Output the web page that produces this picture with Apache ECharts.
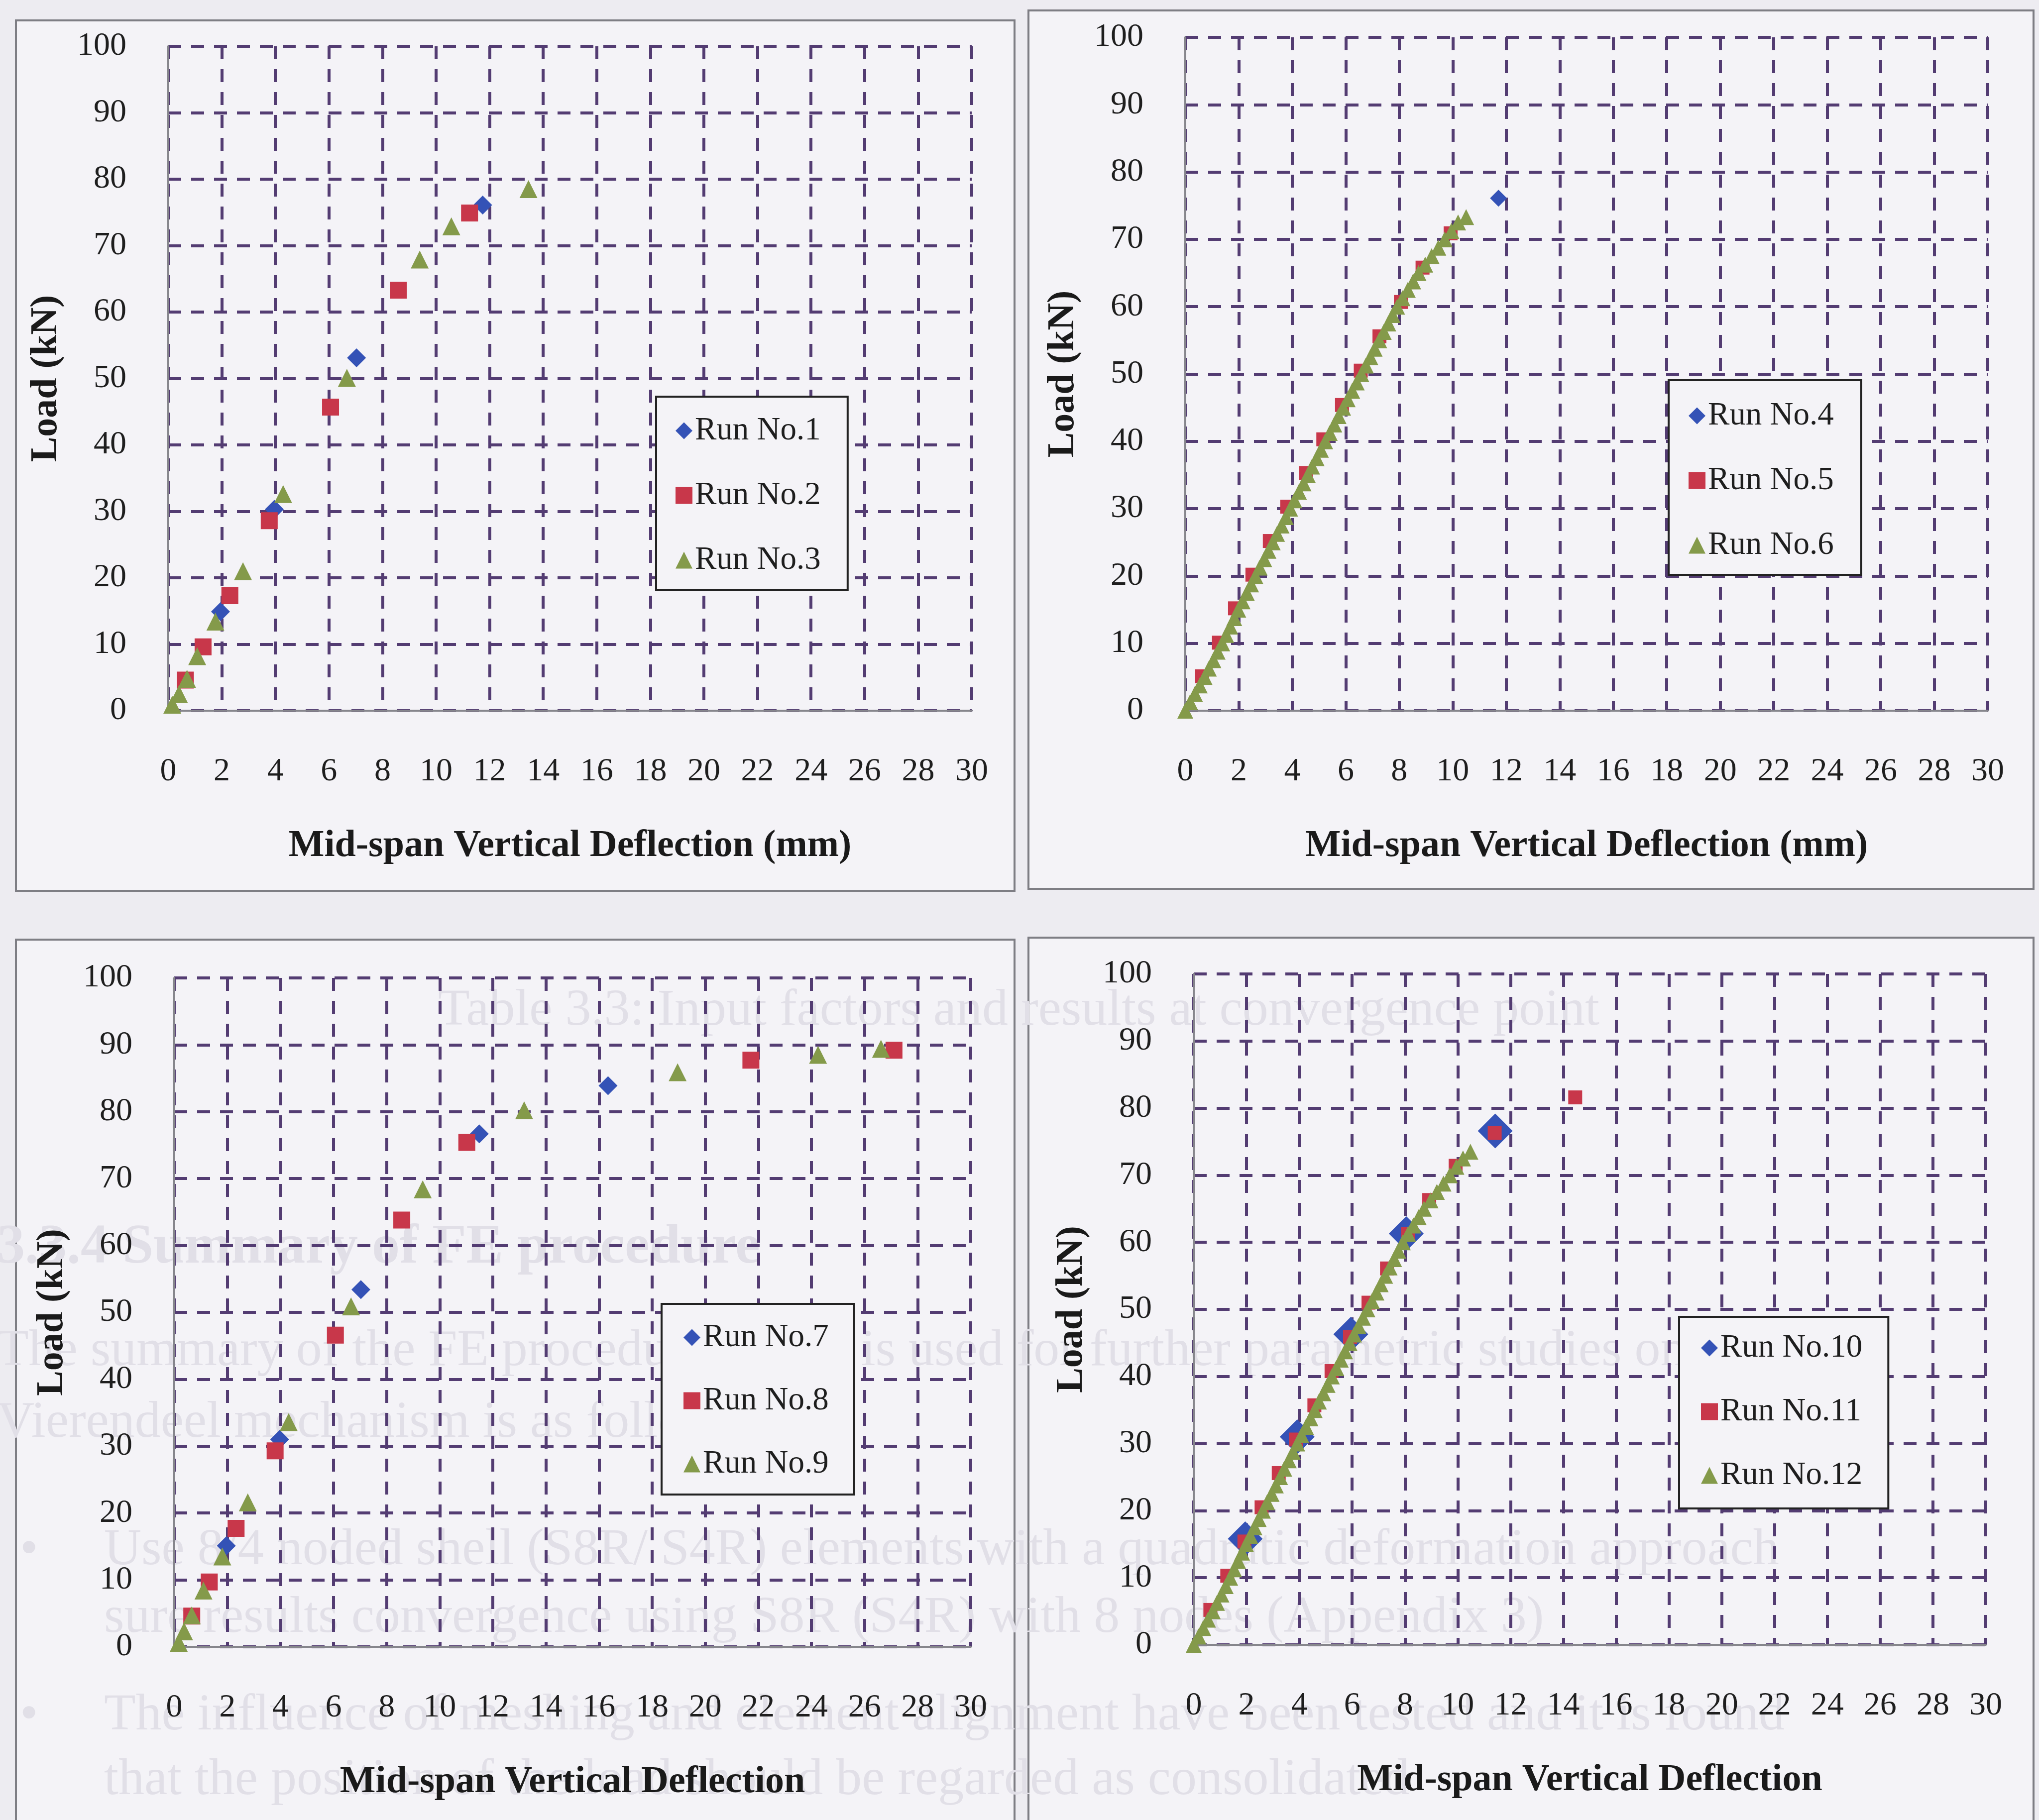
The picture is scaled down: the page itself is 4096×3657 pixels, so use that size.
<!DOCTYPE html>
<html>
<head>
<meta charset="utf-8">
<script src="https://cdn.jsdelivr.net/npm/echarts@6/dist/echarts.min.js"></script>
<style>
html,body{margin:0;padding:0;background:#edecf1;}
#chart{width:4096px;height:3657px;}
</style>
</head>
<body>
<div id="chart"></div>
<script>
// ---------------- DATA ----------------
const xTitleMM = 'Mid-span Vertical Deflection (mm)';
const xTitle = 'Mid-span Vertical Deflection';
const yTitle = 'Load (kN)';
const legend1 = ['Run No.1', 'Run No.2', 'Run No.3'];
const legend2 = ['Run No.4', 'Run No.5', 'Run No.6'];
const legend3 = ['Run No.7', 'Run No.8', 'Run No.9'];
const legend4 = ['Run No.10', 'Run No.11', 'Run No.12'];

// [deflection mm, load kN]
const run1 = [[1.95,14.9],[3.96,30.3],[7.03,53.1],[11.74,76.1]];
const run2 = [[0.64,4.6],[1.30,9.6],[2.30,17.3],[3.77,28.6],[6.06,45.7],[8.59,63.3],[11.25,74.9]];
const run3 = [[0.15,0.9],[0.40,2.5],[0.70,4.8],[1.08,8.2],[1.76,13.4],[2.79,21.0],[4.29,32.6],[6.67,50.1],[9.39,67.9],[10.57,72.9],[13.45,78.5]];

const run4 = [[11.71,76.1]];
const run5 = [[0.63,5.1],[1.26,10.1],[1.86,15.2],[2.51,20.2],[3.16,25.2],[3.81,30.3],[4.51,35.3],[5.16,40.3],[5.86,45.4],[6.56,50.5],[7.26,55.6],[8.06,60.7],[8.87,65.8],[9.92,70.9]];
const run6 = [[0,0],[0.18,1.25],[0.36,2.5],[0.54,3.75],[0.72,5],[0.88,6.25],[1.05,7.5],[1.21,8.75],[1.38,10],[1.53,11.25],[1.68,12.5],[1.83,13.75],[1.98,15],[2.14,16.25],[2.30,17.5],[2.46,18.75],[2.62,20],[2.78,21.25],[2.95,22.5],[3.11,23.75],[3.27,25],[3.43,26.25],[3.60,27.5],[3.76,28.75],[3.92,30],[4.08,31.25],[4.25,32.5],[4.42,33.75],[4.58,35],[4.74,36.25],[4.91,37.5],[5.07,38.75],[5.23,40],[5.40,41.25],[5.57,42.5],[5.73,43.75],[5.90,45],[6.07,46.25],[6.24,47.5],[6.41,48.75],[6.58,50],[6.75,51.25],[6.92,52.5],[7.08,53.75],[7.25,55],[7.42,56.25],[7.59,57.5],[7.75,58.75],[7.92,60],[8.12,61.25],[8.32,62.5],[8.52,63.75],[8.72,65],[8.97,66.25],[9.21,67.5],[9.46,68.75],[9.70,70],[9.95,71.25],[10.2,72.5],[10.5,73.3]];

const run7 = [[1.96,15.1],[3.97,31.0],[7.03,53.4],[11.49,76.7],[16.34,83.9]];
const run8 = [[0.66,4.6],[1.32,9.7],[2.33,17.7],[3.80,29.3],[6.07,46.6],[8.57,63.8],[11.02,75.4],[21.72,87.7],[27.11,89.2]];
const run9 = [[0.17,0.6],[0.37,2.3],[0.66,4.7],[1.10,8.4],[1.81,13.5],[2.77,21.6],[4.31,33.6],[6.66,50.9],[9.36,68.4],[13.18,80.2],[18.96,85.9],[24.25,88.5],[26.62,89.4]];

const run10 = [[1.95,15.8],[3.92,31.0],[5.95,46.3],[8.05,61.3],[11.42,76.6]];
const run11 = [[0.63,5.2],[1.27,10.3],[1.92,15.4],[2.57,20.5],[3.22,25.6],[3.87,30.6],[4.57,35.7],[5.22,40.8],[5.92,45.9],[6.62,51.0],[7.32,56.1],[8.12,61.2],[8.92,66.3],[9.92,71.4],[11.40,76.3],[14.45,81.6]];
const run12 = [[0,0],[0.18,1.25],[0.36,2.5],[0.54,3.75],[0.72,5],[0.88,6.25],[1.05,7.5],[1.21,8.75],[1.38,10],[1.53,11.25],[1.68,12.5],[1.83,13.75],[1.98,15],[2.14,16.25],[2.30,17.5],[2.46,18.75],[2.62,20],[2.78,21.25],[2.95,22.5],[3.11,23.75],[3.27,25],[3.43,26.25],[3.60,27.5],[3.76,28.75],[3.92,30],[4.08,31.25],[4.25,32.5],[4.42,33.75],[4.58,35],[4.74,36.25],[4.91,37.5],[5.07,38.75],[5.23,40],[5.40,41.25],[5.57,42.5],[5.73,43.75],[5.90,45],[6.07,46.25],[6.24,47.5],[6.41,48.75],[6.58,50],[6.75,51.25],[6.92,52.5],[7.08,53.75],[7.25,55],[7.42,56.25],[7.59,57.5],[7.75,58.75],[7.92,60],[8.12,61.25],[8.32,62.5],[8.52,63.75],[8.72,65],[8.97,66.25],[9.21,67.5],[9.46,68.75],[9.70,70],[9.95,71.25],[10.2,72.5],[10.48,73.5]];

// faint bleed-through text of the scanned page
const ghostLines = [
  'Table 3.3: Input factors and results at convergence point',
  '3.3.4 Summary of FE procedure',
  'The summary of the FE procedure which is used for further parametric studies on',
  'Vierendeel mechanism is as follows:',
  'Use 8/4 noded shell (S8R/ S4R) elements with a quadratic deformation approach',
  'sure results convergence using S8R (S4R) with 8 nodes (Appendix 3)',
  'The influence of meshing and element alignment have been tested and it is found',
  'that the position of the load should be regarded as consolidated'
];

// ---------------- STYLE ----------------
const FONT = 'Liberation Serif';
const BLUE = '#3452b6', RED = '#c8374a', GREEN = '#849a4a';
const GRIDC = '#533c72';
const PANEL_FILL = '#f4f3f7';
const GHOST = '#e1dfe7';

const grids = [
  {left: 338, top: 93, width: 1614, height: 1335},
  {left: 2381, top: 75, width: 1612, height: 1353},
  {left: 350, top: 1965, width: 1600, height: 1344},
  {left: 2398, top: 1957, width: 1591, height: 1348}
];
const xNames = [xTitleMM, xTitleMM, xTitle, xTitle];

function xAxis(i) {
  return {
    type: 'value', gridIndex: i, min: 0, max: 30, interval: 2,
    name: xNames[i], nameLocation: 'middle', nameGap: 234,
    nameTextStyle: {fontFamily: FONT, fontWeight: 'bold', fontSize: 76, color: '#1a1a1a'},
    axisLine: {show: true, onZero: false, lineStyle: {color: '#86868c', width: 4}},
    axisTick: {show: false},
    axisLabel: {fontFamily: FONT, fontSize: 66, color: '#1e1e1e', margin: 90},
    splitLine: {show: true, lineStyle: {color: GRIDC, width: 6, type: [26, 20]}}
  };
}
function yAxis(i) {
  return {
    type: 'value', gridIndex: i, min: 0, max: 100, interval: 10,
    name: yTitle, nameLocation: 'middle', nameGap: 207,
    nameTextStyle: {fontFamily: FONT, fontWeight: 'bold', fontSize: 76, color: '#1a1a1a'},
    axisLine: {show: true, onZero: false, lineStyle: {color: '#86868c', width: 4}},
    axisTick: {show: false},
    axisLabel: {fontFamily: FONT, fontSize: 66, color: '#1e1e1e', margin: 84},
    splitLine: {show: true, lineStyle: {color: GRIDC, width: 6, type: [26, 20]}}
  };
}

function sc(name, i, data, symbol, size, color) {
  return {
    type: 'scatter', name: name, xAxisIndex: i, yAxisIndex: i, data: data,
    symbol: symbol, symbolSize: size, itemStyle: {color: color, opacity: 1},
    clip: false, emphasis: {disabled: true}
  };
}

const series = [
  sc(legend1[0], 0, run1, 'diamond', 38, BLUE),
  sc(legend1[1], 0, run2, 'rect', 34, RED),
  sc(legend1[2], 0, run3, 'triangle', 36, GREEN),
  sc(legend2[0], 1, run4, 'diamond', 34, BLUE),
  sc(legend2[1], 1, run5, 'rect', 28, RED),
  sc(legend2[2], 1, run6, 'triangle', 32, GREEN),
  sc(legend3[0], 2, run7, 'diamond', 38, BLUE),
  sc(legend3[1], 2, run8, 'rect', 34, RED),
  sc(legend3[2], 2, run9, 'triangle', 36, GREEN),
  sc(legend4[0], 3, run10, 'diamond', 70, BLUE),
  sc(legend4[1], 3, run11, 'rect', 28, RED),
  sc(legend4[2], 3, run12, 'triangle', 32, GREEN)
];

function legend(data, left, top, padding, gap) {
  return {
    data: data, orient: 'vertical', left: left, top: top, padding: padding,
    itemGap: gap, itemWidth: 34, itemHeight: 34, selectedMode: false,
    backgroundColor: PANEL_FILL, borderColor: '#222', borderWidth: 4,
    textStyle: {fontFamily: FONT, fontSize: 65, color: '#1e1e1e'}
  };
}

const panelBoxes = [
  {x: 32, y: 41, w: 2006, h: 1749},
  {x: 2066, y: 21, w: 2019, h: 1765},
  {x: 32, y: 1888, w: 2006, h: 1850},
  {x: 2066, y: 1884, w: 2019, h: 1850}
];
const ghostPos = [
  {x: 880, y: 2032, bold: false},
  {x: -6, y: 2508, bold: true},
  {x: -6, y: 2716, bold: false},
  {x: -6, y: 2860, bold: false},
  {x: 209, y: 3116, bold: false},
  {x: 209, y: 3252, bold: false},
  {x: 209, y: 3448, bold: false},
  {x: 209, y: 3578, bold: false}
];

const graphic = [];
panelBoxes.forEach(b => graphic.push({
  type: 'rect', z: -100, silent: true,
  shape: {x: b.x, y: b.y, width: b.w, height: b.h},
  style: {fill: PANEL_FILL, stroke: '#7e7e84', lineWidth: 4}
}));
ghostLines.forEach((t, k) => graphic.push({
  type: 'text', z: -50, silent: true,
  style: {text: t, x: ghostPos[k].x, y: ghostPos[k].y, verticalAlign: 'middle',
    fontFamily: FONT, fontSize: ghostPos[k].bold ? 112 : 104,
    fontWeight: ghostPos[k].bold ? 'bold' : 'normal', fill: GHOST}
}));
graphic.push({type: 'text', z: -50, silent: true,
  style: {text: '\u2022', x: 40, y: 3116, verticalAlign: 'middle', fontFamily: FONT, fontSize: 104, fill: GHOST}});
graphic.push({type: 'text', z: -50, silent: true,
  style: {text: '\u2022', x: 40, y: 3448, verticalAlign: 'middle', fontFamily: FONT, fontSize: 104, fill: GHOST}});

const option = {
  animation: false,
  backgroundColor: '#edecf1',
  graphic: graphic,
  grid: grids.map(g => Object.assign({containLabel: false}, g)),
  xAxis: [0, 1, 2, 3].map(xAxis),
  yAxis: [0, 1, 2, 3].map(yAxis),
  legend: [
    legend(legend1, 1318, 797, [36, 54, 28, 39], 65),
    legend(legend2, 3352, 764, [39, 55, 27, 40], 65),
    legend(legend3, 1329, 2620, [35, 51, 29, 44], 62),
    legend(legend4, 3373, 2646, [30, 52, 34, 44], 63)
  ],
  series: series
};

const chart = echarts.init(document.getElementById('chart'), null, {renderer: 'canvas'});
chart.setOption(option);
</script>
</body>
</html>
